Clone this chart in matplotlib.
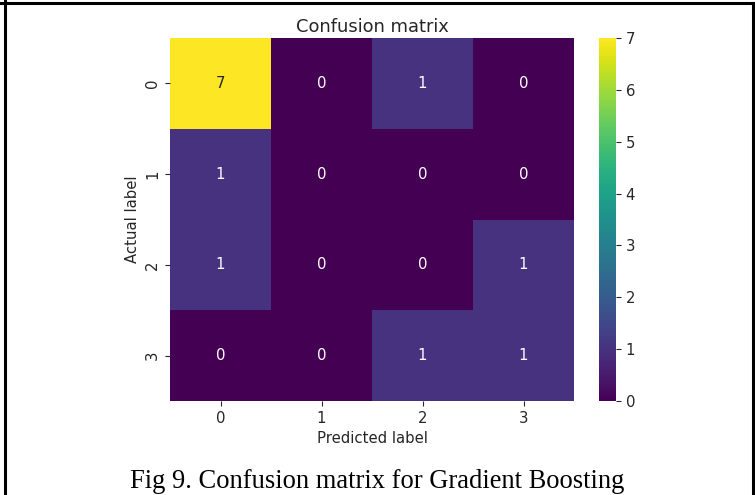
import numpy as np
import matplotlib
matplotlib.use("Agg")
import matplotlib.pyplot as plt
from matplotlib.lines import Line2D
import seaborn as sns

# confusion matrix values
class_labels = ["0", "1", "2", "3"]
cm = np.array([
    [7, 0, 1, 0],
    [1, 0, 0, 0],
    [1, 0, 0, 1],
    [0, 0, 1, 1],
])
cbar_ticks = [0, 1, 2, 3, 4, 5, 6, 7]

# dark grey text like the original notebook output
plt.rcParams.update({
    "text.color": ".15",
    "axes.labelcolor": ".15",
    "xtick.color": ".15",
    "ytick.color": ".15",
})

W, H = 755, 495
fig = plt.figure(figsize=(W / 100, H / 100), dpi=100)

# axes placement in pixel terms (left, top, right, bottom)
def px_axes(l, t, r, b):
    return fig.add_axes([l / W, 1 - b / H, (r - l) / W, (b - t) / H])

ax = px_axes(170, 38, 574, 401)
cax = px_axes(599, 38, 616, 401)

fs = 10.7
sns.heatmap(cm, annot=True, fmt="d", cmap="viridis", vmin=0, vmax=7,
            ax=ax, cbar_ax=cax, xticklabels=class_labels, yticklabels=class_labels,
            annot_kws={"fontsize": fs})

ax.set_title("Confusion matrix", fontsize=12.9, pad=4)
ax.set_xlabel("Predicted label", fontsize=fs)
ax.set_ylabel("Actual label", fontsize=fs)
ax.tick_params(labelsize=fs)
ax.set_yticklabels(class_labels, rotation=90, va="center")

cax.set_yticks(cbar_ticks)
cax.tick_params(labelsize=fs)
cax.yaxis.set_tick_params(length=3.5)
for s in cax.spines.values():
    s.set_visible(False)

# caption below the chart
fig.text(0.5, 1 - 481 / H, "Fig 9. Confusion matrix for Gradient Boosting",
         ha="center", va="center", fontsize=19.1, family="Liberation Serif", color="black")

# table cell borders around the figure
lw = 2.2
fig.add_artist(Line2D([0, 1], [1 - 3 / H, 1 - 3 / H], color="black", lw=lw, transform=fig.transFigure))
fig.add_artist(Line2D([5 / W, 5 / W], [0, 1], color="black", lw=lw, transform=fig.transFigure))
fig.add_artist(Line2D([753 / W, 753 / W], [0, 1 - 3 / H], color="black", lw=lw, transform=fig.transFigure))

fig.savefig("out.png", dpi=100)
